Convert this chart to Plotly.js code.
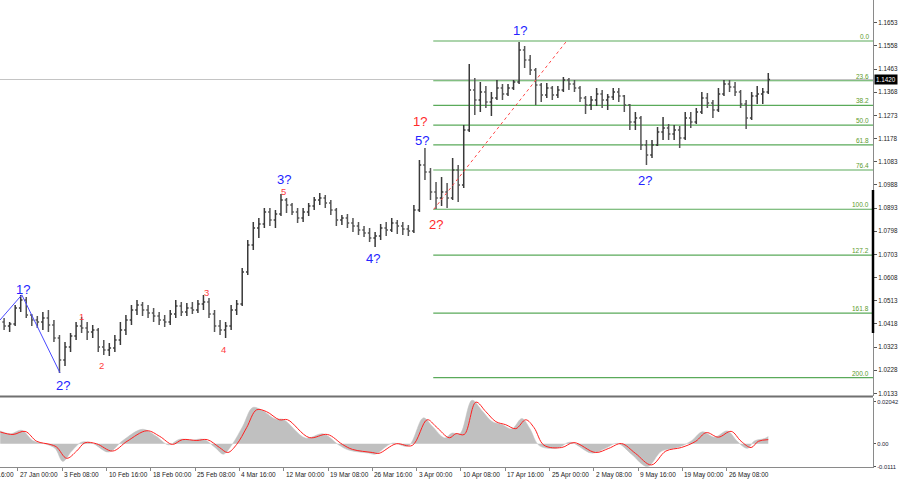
<!DOCTYPE html>
<html><head><meta charset="utf-8">
<script src="https://cdn.plot.ly/plotly-3.0.1.min.js"></script>
<style>html,body{margin:0;padding:0;background:#fff}#c{width:900px;height:485px}</style>
</head><body><div id="c"></div>
<script>
// ---- price bars (each bar = 16h, index k) ----
const open = [
1.0426,1.0409,1.0418,1.0483,1.0516,1.0455,1.0434,1.0426,1.0442,1.0413,
1.0360,1.0270,1.0323,1.0368,1.0409,1.0401,1.0385,1.0393,1.0323,1.0311,
1.0319,1.0352,1.0393,1.0434,1.0475,1.0496,1.0475,1.0463,1.0450,1.0434,
1.0426,1.0459,1.0491,1.0467,1.0483,1.0475,1.0500,1.0508,1.0459,1.0409,
1.0393,1.0409,1.0475,1.0500,1.0631,1.0742,1.0811,1.0828,1.0877,1.0844,
1.0869,1.0926,1.0906,1.0877,1.0852,1.0877,1.0901,1.0926,1.0934,1.0914,
1.0885,1.0844,1.0852,1.0832,1.0819,1.0803,1.0791,1.0770,1.0778,1.0811,
1.0803,1.0832,1.0819,1.0807,1.0799,1.0885,1.1070,1.1041,1.0959,1.0934,
1.0959,1.0934,1.1049,1.0988,1.1213,1.1377,1.1336,1.1369,1.1328,1.1344,
1.1385,1.1361,1.1385,1.1410,1.1541,1.1500,1.1459,1.1398,1.1357,1.1385,
1.1357,1.1377,1.1418,1.1402,1.1385,1.1344,1.1316,1.1336,1.1361,1.1336,
1.1348,1.1369,1.1352,1.1316,1.1246,1.1262,1.1152,1.1111,1.1152,1.1205,
1.1221,1.1197,1.1213,1.1180,1.1262,1.1246,1.1287,1.1344,1.1324,1.1295,
1.1361,1.1402,1.1389,1.1369,1.1320,1.1262,1.1352,1.1361,1.1369];
const high = [
1.0442,1.0426,1.0496,1.0537,1.0528,1.0459,1.0450,1.0467,1.0475,1.0434,
1.0373,1.0344,1.0381,1.0426,1.0446,1.0426,1.0413,1.0401,1.0352,1.0340,
1.0373,1.0426,1.0455,1.0496,1.0516,1.0508,1.0496,1.0483,1.0467,1.0455,
1.0475,1.0516,1.0508,1.0504,1.0508,1.0516,1.0537,1.0524,1.0475,1.0434,
1.0426,1.0496,1.0516,1.0647,1.0762,1.0836,1.0852,1.0893,1.0893,1.0885,
1.0951,1.0934,1.0914,1.0893,1.0893,1.0914,1.0938,1.0955,1.0947,1.0926,
1.0893,1.0865,1.0869,1.0852,1.0836,1.0819,1.0811,1.0795,1.0828,1.0836,
1.0852,1.0844,1.0836,1.0824,1.0906,1.1090,1.1139,1.1057,1.1000,1.1020,
1.0996,1.1098,1.1070,1.1234,1.1484,1.1426,1.1410,1.1393,1.1369,1.1418,
1.1402,1.1402,1.1418,1.1574,1.1557,1.1521,1.1467,1.1406,1.1406,1.1393,
1.1393,1.1430,1.1426,1.1418,1.1393,1.1352,1.1352,1.1385,1.1377,1.1361,
1.1385,1.1385,1.1357,1.1320,1.1287,1.1270,1.1172,1.1172,1.1225,1.1266,
1.1238,1.1234,1.1229,1.1287,1.1287,1.1303,1.1369,1.1365,1.1336,1.1385,
1.1418,1.1418,1.1410,1.1377,1.1336,1.1369,1.1393,1.1385,1.1447];
const low = [
1.0393,1.0385,1.0409,1.0467,1.0442,1.0409,1.0401,1.0393,1.0385,1.0344,
1.0217,1.0245,1.0303,1.0352,1.0381,1.0352,1.0360,1.0303,1.0291,1.0286,
1.0303,1.0332,1.0373,1.0413,1.0455,1.0450,1.0442,1.0426,1.0413,1.0405,
1.0413,1.0442,1.0450,1.0450,1.0459,1.0463,1.0475,1.0442,1.0385,1.0373,
1.0360,1.0393,1.0455,1.0491,1.0619,1.0721,1.0770,1.0811,1.0819,1.0811,
1.0860,1.0873,1.0865,1.0832,1.0836,1.0860,1.0885,1.0906,1.0893,1.0865,
1.0819,1.0824,1.0811,1.0795,1.0783,1.0774,1.0754,1.0733,1.0762,1.0778,
1.0795,1.0787,1.0783,1.0778,1.0791,1.0877,1.1008,1.0926,1.0889,1.0901,
1.0893,1.0926,1.0918,1.0975,1.1205,1.1275,1.1287,1.1303,1.1270,1.1336,
1.1336,1.1352,1.1377,1.1402,1.1467,1.1439,1.1316,1.1328,1.1344,1.1336,
1.1344,1.1369,1.1377,1.1369,1.1328,1.1279,1.1295,1.1311,1.1303,1.1295,
1.1336,1.1328,1.1287,1.1213,1.1213,1.1131,1.1070,1.1098,1.1147,1.1172,
1.1172,1.1172,1.1139,1.1172,1.1221,1.1238,1.1279,1.1303,1.1262,1.1287,
1.1352,1.1369,1.1352,1.1303,1.1217,1.1254,1.1320,1.1320,1.1361];
const close = [
1.0409,1.0418,1.0483,1.0516,1.0455,1.0434,1.0426,1.0442,1.0413,1.0360,
1.0270,1.0323,1.0368,1.0409,1.0401,1.0385,1.0393,1.0323,1.0311,1.0319,
1.0352,1.0393,1.0434,1.0475,1.0496,1.0475,1.0463,1.0450,1.0434,1.0426,
1.0459,1.0491,1.0467,1.0483,1.0475,1.0500,1.0508,1.0459,1.0409,1.0393,
1.0409,1.0475,1.0500,1.0631,1.0742,1.0811,1.0828,1.0877,1.0844,1.0869,
1.0926,1.0906,1.0877,1.0852,1.0877,1.0901,1.0926,1.0934,1.0914,1.0885,
1.0844,1.0852,1.0832,1.0819,1.0803,1.0791,1.0770,1.0778,1.0811,1.0803,
1.0832,1.0819,1.0807,1.0799,1.0885,1.1070,1.1041,1.0959,1.0934,1.0959,
1.0934,1.1049,1.0988,1.1213,1.1377,1.1336,1.1369,1.1328,1.1344,1.1385,
1.1361,1.1385,1.1410,1.1541,1.1500,1.1459,1.1398,1.1357,1.1385,1.1357,
1.1377,1.1418,1.1402,1.1385,1.1344,1.1316,1.1336,1.1361,1.1336,1.1348,
1.1369,1.1352,1.1316,1.1246,1.1262,1.1152,1.1111,1.1152,1.1205,1.1221,
1.1197,1.1213,1.1180,1.1262,1.1246,1.1287,1.1344,1.1324,1.1295,1.1361,
1.1402,1.1389,1.1369,1.1320,1.1262,1.1352,1.1361,1.1369,1.1420];

// ---- oscillator (histogram area + signal line) ----
const osX = [-0.7,1.1,3.2,5.2,7.6,9.2,10.6,12.2,14.0,16.0,18.9,21.4,25.0,27.4,29.7,31.7,34.0,36.0,38.2,39.6,41.2,43.1,44.9,46.7,49.0,50.4,54.4,57.6,60.4,62.2,65.8,67.0,70.1,73.0,75.7,77.3,79.6,80.9,82.3,84.5,86.3,88.1,89.9,91.7,93.5,94.9,96.7,100.0,102.2,106.1,108.5,110.8,113.3,116.2,118.7,121.6,124.1,126.1,128.3,130.6,132.4,134.2,135.5,137.3,138.0];
const osY = [0.0062,0.0048,0.0065,0.0015,-0.0002,-0.0022,-0.0085,-0.0035,0.0008,0.0002,-0.0040,0.0015,0.0070,0.0038,-0.0005,0.0022,0.0018,0.0022,-0.0020,-0.0050,-0.0002,0.0085,0.0175,0.0160,0.0120,0.0118,0.0028,0.0048,-0.0005,-0.0030,-0.0045,-0.0050,0.0003,-0.0010,0.0125,0.0085,0.0028,0.0052,0.0048,0.0210,0.0160,0.0108,0.0093,0.0072,0.0122,0.0075,-0.0010,-0.0020,0.0008,-0.0045,-0.0023,0.0002,-0.0050,-0.0110,-0.0036,-0.0018,0.0014,0.0058,0.0032,0.0062,0.0012,-0.0022,0.0014,0.0025,0.0035];
const sigX = [-0.7,1.6,3.8,5.9,8.3,9.5,11.3,13.1,14.6,16.7,19.6,22.2,25.8,28.1,30.4,32.2,34.8,36.7,38.9,40.4,42.0,43.8,45.6,47.4,49.7,51.2,55.1,58.4,61.1,62.9,66.5,67.7,70.8,73.7,76.4,78.0,80.4,81.6,83.1,85.2,87.0,88.8,90.6,92.4,94.2,95.7,97.5,100.7,102.9,106.8,109.2,111.5,114.0,116.9,119.5,122.3,124.9,126.8,129.0,131.3,133.1,134.9,136.2,138.0];
const sigY = [0.0057,0.0045,0.0060,0.0012,-0.0003,-0.0016,-0.0070,-0.0035,0.0005,0.0000,-0.0035,0.0012,0.0063,0.0036,-0.0003,0.0020,0.0016,0.0020,-0.0018,-0.0042,-0.0003,0.0078,0.0164,0.0155,0.0116,0.0116,0.0030,0.0045,-0.0003,-0.0027,-0.0042,-0.0046,0.0000,-0.0008,0.0116,0.0083,0.0029,0.0049,0.0045,0.0201,0.0155,0.0107,0.0092,0.0073,0.0116,0.0078,-0.0007,-0.0018,0.0006,-0.0042,-0.0022,0.0001,-0.0046,-0.0102,-0.0035,-0.0018,0.0012,0.0054,0.0032,0.0060,0.0012,-0.0018,0.0012,0.0020];

// ---- axes ----
const priceTicks = [1.1653,1.1558,1.1463,1.1368,1.1273,1.1178,1.1083,1.0988,1.0893,1.0798,1.0703,1.0608,1.0513,1.0418,1.0323,1.0228,1.0133];
const timeTickK = [2.5,10.5,18.5,26.5,34.5,42.5,50.5,58.5,66.5,74.5,82.5,90.5,98.5,106.5,114.5,122.5,130.5];
const timeLabels = ["27 Jan 00:00","3 Feb 08:00","10 Feb 16:00","18 Feb 00:00","25 Feb 08:00","4 Mar 16:00","12 Mar 00:00","19 Mar 08:00","26 Mar 16:00","3 Apr 00:00","10 Apr 08:00","17 Apr 16:00","25 Apr 00:00","2 May 08:00","9 May 16:00","19 May 00:00","26 May 08:00"];
const firstLabel = "17 Jan 16:00";
const oscTicks = [0.02042, 0, -0.0111];
const oscTickText = ["0.02042","0.00","-0.0111"];
const lastPrice = 1.1420;

// ---- Fibonacci grid ----
const fibText = ["0.0","23.6","38.2","50.0","61.8","76.4","100.0","127.2","161.8","200.0"];
const fibPrice = [1.1578,1.1415,1.1314,1.1233,1.1152,1.1049,1.0888,1.0700,1.0462,1.0198];
const fibStartK = 77.5;
const fibTrendX = [77.6, 101.6];
const fibTrendY = [1.0888, 1.1578];

// ---- wave marks ----
const waveLineX = [-0.74, 3.2, 10.1];
const waveLineY = [1.0434, 1.0537, 1.0217];
const bigLabels = [
 {t:"1?", k:3.4,  p:1.0561, c:"#2323ff"},
 {t:"2?", k:10.6, p:1.0167, c:"#2323ff"},
 {t:"3?", k:50.6, p:1.1012, c:"#2323ff"},
 {t:"4?", k:66.7, p:1.0688, c:"#2323ff"},
 {t:"5?", k:75.5, p:1.1168, c:"#2323ff"},
 {t:"1?", k:93.1, p:1.1623, c:"#2323ff"},
 {t:"2?", k:115.7,p:1.1004, c:"#2323ff"},
 {t:"1?", k:75.1, p:1.1246, c:"#ff2a2a"},
 {t:"2?", k:78.0, p:1.0824, c:"#ff2a2a"}];
const smallLabels = [
 {t:"1", k:14.0, p:1.0450},
 {t:"2", k:17.6, p:1.0249},
 {t:"3", k:36.6, p:1.0545},
 {t:"4", k:39.6, p:1.0315},
 {t:"5", k:50.4, p:1.0959}];

const FONT = "Liberation Sans, Arial, sans-serif";
const ks = close.map((_, i) => i);
const xRange = [-0.74, 156.91];

const traces = [
 {type:'ohlc', x:ks, open:open, high:high, low:low, close:close, xaxis:'x', yaxis:'y',
  increasing:{line:{color:'#3a3a3a', width:1.5}}, decreasing:{line:{color:'#555555', width:1.5}},
  tickwidth:0.32, hoverinfo:'skip'},
 {type:'scatter', mode:'lines', x:waveLineX, y:waveLineY, xaxis:'x', yaxis:'y',
  line:{color:'#4a4aff', width:1}, hoverinfo:'skip'},
 {type:'scatter', mode:'lines', x:fibTrendX, y:fibTrendY, xaxis:'x', yaxis:'y',
  line:{color:'#ff4a4a', width:1, dash:'dot'}, hoverinfo:'skip'},
 {type:'scatter', mode:'lines', x:osX, y:osY, xaxis:'x2', yaxis:'y2',
  fill:'tozeroy', fillcolor:'#c0c0c0', line:{color:'#c0c0c0', width:0.5, shape:'spline'}, hoverinfo:'skip'},
 {type:'scatter', mode:'lines', x:sigX, y:sigY, xaxis:'x2', yaxis:'y2',
  line:{color:'#ff2020', width:1, shape:'spline'}, hoverinfo:'skip'}
];

const shapes = [];
shapes.push({type:'line', xref:'paper', yref:'y', x0:0, x1:1, y0:lastPrice, y1:lastPrice, line:{color:'#c4c4c4', width:1}, layer:'below'});
fibPrice.forEach(p => shapes.push({type:'line', xref:'x', yref:'y', x0:fibStartK, x1:xRange[1], y0:p, y1:p,
  line:{color:'#5aaa5a', width:1.2}, layer:'below'}));
shapes.push({type:'line', xref:'paper', yref:'paper', x0:0, x1:1, y0:(467-396.5)/467, y1:(467-396.5)/467, line:{color:'#707070', width:2}});
shapes.push({type:'line', xref:'paper', yref:'paper', x0:1, x1:1, y0:1-333/467, y1:1-190/467, line:{color:'#000', width:2.5}});

const annotations = [];
fibText.forEach((t, i) => annotations.push({xref:'paper', yref:'y', x:1, y:fibPrice[i], xanchor:'right', yanchor:'bottom',
  xshift:-2, yshift:-1, text:t, showarrow:false, font:{family:FONT, size:6.5, color:'#5c9a2c'}}));
bigLabels.forEach(l => annotations.push({xref:'x', yref:'y', x:l.k, y:l.p, text:l.t, showarrow:false,
  font:{family:FONT, size:13, color:l.c}}));
smallLabels.forEach(l => annotations.push({xref:'x', yref:'y', x:l.k, y:l.p, text:l.t, showarrow:false,
  font:{family:FONT, size:9.5, color:'#ff4040'}}));
timeTickK.forEach((k, i) => annotations.push({xref:'x2', yref:'paper', x:k, y:0, xanchor:'left', yanchor:'top',
  yshift:-2, xshift:0, text:timeLabels[i], showarrow:false, font:{family:FONT, size:6.5, color:'#222'}}));
annotations.push({xref:'paper', yref:'paper', x:-26.4/873, y:0, xanchor:'left', yanchor:'top', yshift:-2,
  text:firstLabel, showarrow:false, font:{family:FONT, size:6.5, color:'#222'}});
annotations.push({xref:'paper', yref:'y', x:1, y:lastPrice, xanchor:'left', yanchor:'middle', xshift:1,
  text:lastPrice.toFixed(4), showarrow:false, bgcolor:'#000', borderpad:1, font:{family:FONT, size:6.3, color:'#fff'}});

const layout = {
 width:900, height:485, margin:{l:0, r:27, t:0, b:18},
 paper_bgcolor:'#fff', plot_bgcolor:'#fff', showlegend:false,
 xaxis:{domain:[0,1], anchor:'y', range:xRange, showticklabels:false, ticks:'', showgrid:false, zeroline:false,
   rangeslider:{visible:false}, fixedrange:true},
 yaxis:{domain:[(467-396)/467, 1], anchor:'x', side:'right', range:[1.01224, 1.1746], tickvals:priceTicks,
   ticktext:priceTicks.map(v => v.toFixed(4)), ticks:'outside', ticklen:3, tickcolor:'#555',
   tickfont:{family:FONT, size:6.3, color:'#222'}, showline:true, linecolor:'#8a8a8a', linewidth:1,
   showgrid:false, zeroline:false},
 xaxis2:{domain:[0,1], anchor:'y2', range:xRange, tickvals:timeTickK, ticks:'outside', ticklen:3,
   tickcolor:'#888', showticklabels:false, showline:true, linecolor:'#8a8a8a', showgrid:false, zeroline:false},
 yaxis2:{domain:[0, 69/467], anchor:'x2', side:'right', range:[-0.0112, 0.0221], tickvals:oscTicks,
   ticktext:oscTickText, ticks:'outside', ticklen:2, tickcolor:'#555',
   tickfont:{family:FONT, size:5.8, color:'#223'}, showline:true, linecolor:'#8a8a8a', showgrid:false, zeroline:false},
 shapes:shapes, annotations:annotations
};

Plotly.newPlot('c', traces, layout, {staticPlot:true, displayModeBar:false});
</script>
</body></html>
